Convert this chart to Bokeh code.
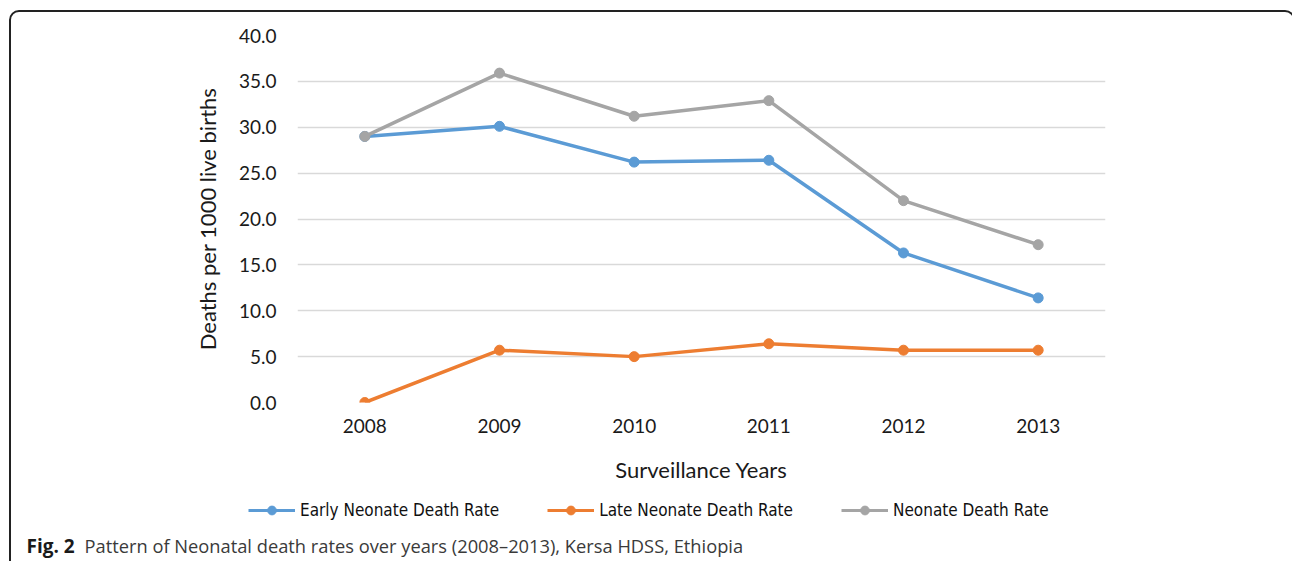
from bokeh.plotting import figure
from bokeh.models import (FactorRange, Range1d, SingleIntervalTicker, NumeralTickFormatter,
                          Legend, LegendItem, Label, ColumnDataSource, InlineStyleSheet)
from bokeh.embed import file_html
from bokeh.resources import INLINE

years = ["2008", "2009", "2010", "2011", "2012", "2013"]
early_rate = [29.0, 30.1, 26.2, 26.4, 16.3, 11.4]
late_rate = [0.0, 5.7, 5.0, 6.4, 5.7, 5.7]
neonate_rate = [29.0, 35.9, 31.2, 32.9, 22.0, 17.2]
series_names = ["Early Neonate Death Rate", "Late Neonate Death Rate", "Neonate Death Rate"]
series_colors = ["#5B9BD5", "#ED7D31", "#A5A5A5"]
caption_bold = "Fig. 2"
caption_text = "Pattern of Neonatal death rates over years (2008–2013), Kersa HDSS, Ethiopia"

W, H, HM = 1292, 561, 490
FL, FR, FT, FB = 297, 1105, 35, 402

BORDER_CSS = """
:host {{ position: relative; overflow: hidden; }}
:host::after {{ content: ''; position: absolute; left: 9px; top: {top}px; width: 1286px;
  height: 900px; border: 2px solid #222222; border-radius: 10px; box-sizing: border-box;
  pointer-events: none; }}
"""

p = figure(width=W, height=HM, x_range=FactorRange(*years, range_padding=0),
           y_range=Range1d(0, 40), output_backend="svg", toolbar_location=None,
           min_border_left=FL, min_border_right=W - FR, min_border_top=FT,
           min_border_bottom=HM - FB)
p.outline_line_color = None
p.background_fill_color = "white"
p.border_fill_color = "white"

src = ColumnDataSource(dict(year=years, early=early_rate, late=late_rate, neo=neonate_rate))
for key, col in zip(["early", "late", "neo"], series_colors):
    p.line("year", key, source=src, line_color=col, line_width=3.5)
    p.scatter("year", key, source=src, size=10, fill_color=col, line_color=col)

p.xgrid.grid_line_color = None
p.ygrid.grid_line_color = "#D9D9D9"
p.ygrid.grid_line_width = 1.5

p.yaxis.ticker = SingleIntervalTicker(interval=5)
p.yaxis.formatter = NumeralTickFormatter(format="0.0")
for ax in (p.xaxis, p.yaxis):
    ax.axis_line_color = None
    ax.major_tick_line_color = None
    ax.minor_tick_line_color = None
    ax.major_label_text_font = "Lato"
    ax.major_label_text_font_size = "19px"
    ax.major_label_text_color = "#1A1A1A"
    ax.axis_label_text_font = "Lato"
    ax.axis_label_text_font_size = "22px"
    ax.axis_label_text_font_style = "normal"
    ax.axis_label_text_color = "#1A1A1A"
p.yaxis.major_label_standoff = 15
p.xaxis.major_label_standoff = 10
p.yaxis.axis_label = "Deaths per 1000 live births"
p.xaxis.axis_label = "Surveillance Years"
p.yaxis.axis_label_standoff = 15
p.xaxis.axis_label_standoff = 20
p.stylesheets = [InlineStyleSheet(css=BORDER_CSS.format(top=10))]

# legend + caption strip; the legend's renderers are hidden copies of the series
HC = H - HM
c = figure(width=W, height=HC, x_range=Range1d(0, W), y_range=Range1d(0, HC),
           output_backend="svg", toolbar_location=None, min_border=0)
c.axis.visible = False
c.grid.visible = False
c.outline_line_color = None
c.background_fill_color = "white"
c.border_fill_color = "white"
idx = list(range(len(years)))
items = []
for name, col, vals in zip(series_names, series_colors, [early_rate, late_rate, neonate_rate]):
    s = ColumnDataSource(dict(x=idx, y=vals))
    r1 = c.line("x", "y", source=s, line_color=col, line_width=3, visible=False)
    r2 = c.scatter("x", "y", source=s, size=9, fill_color=col, line_color=col, visible=False)
    items.append(LegendItem(label=name, renderers=[r1, r2]))
legend = Legend(items=items, orientation="horizontal", location=(248, HC - (510 - HM) - 11),
                padding=0, margin=0, spacing=48, glyph_width=47, glyph_height=22,
                label_standoff=5, label_text_font="DejaVu Sans Condensed",
                label_text_font_size="17px", label_text_color="#111111",
                label_height=22, border_line_color=None, background_fill_alpha=0,
                inactive_fill_alpha=0, click_policy="none")
c.add_layout(legend, "center")

cap1 = Label(x=26, y=553 - HM - 8, x_units="canvas", y_units="canvas", text=caption_bold,
             text_font="Open Sans", text_font_style="bold", text_font_size="19px",
             text_color="#1A1A1A", text_baseline="alphabetic")
cap2 = Label(x=84, y=553 - HM - 8, x_units="canvas", y_units="canvas", text=caption_text,
             text_font="Open Sans", text_font_size="18.3px", text_color="#3A3A3A",
             text_baseline="alphabetic")
c.add_layout(cap1)
c.add_layout(cap2)
c.stylesheets = [InlineStyleSheet(css=BORDER_CSS.format(top=-40))]

open("out.html", "w").write(file_html([p, c], INLINE))
